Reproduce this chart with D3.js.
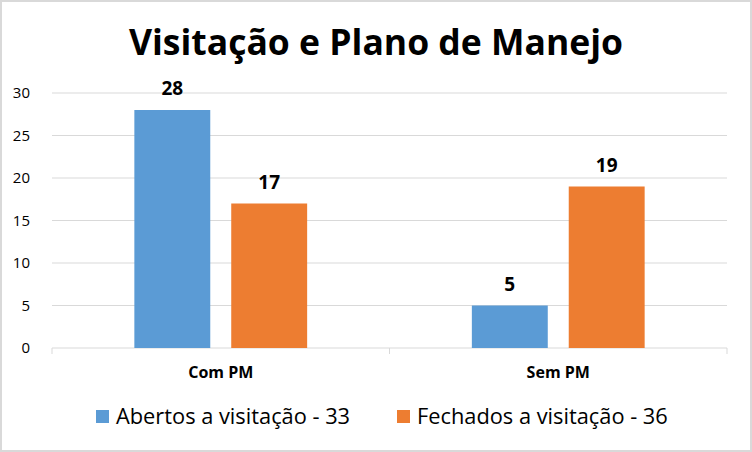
<!DOCTYPE html>
<html><head><meta charset="utf-8">
<script src="https://cdn.jsdelivr.net/npm/d3@7"></script>
<style>body{margin:0;background:#fff}svg{display:block}text{font-family:"Open Sans","Noto Sans",sans-serif}</style>
</head><body>
<script>
const categories = ["Com PM", "Sem PM"];
const seriesNames = ["Abertos a visitação - 33", "Fechados a visitação - 36"];
const abertos = [28, 5];
const fechados = [17, 19];
const yTicks = [0, 5, 10, 15, 20, 25, 30];
const colors = ["#5B9BD5", "#ED7D31"];

const W = 752, H = 452;
const svg = d3.select("body").append("svg").attr("width", W).attr("height", H);
svg.append("rect").attr("x", 1).attr("y", 1).attr("width", W - 2).attr("height", H - 2)
  .attr("fill", "#fff").attr("stroke", "#d9d9d9").attr("stroke-width", 2);

const m = {left: 52, right: 727, top: 93, bottom: 348};
const x = d3.scaleBand().domain(categories).range([m.left, m.right]);
const xs = d3.scaleBand().domain([0, 1]).range([0, x.bandwidth()]).paddingInner(0.2165).paddingOuter(0.85);
const y = d3.scaleLinear().domain([0, 30]).range([m.bottom, m.top]);

svg.append("text").attr("x", 376).attr("y", 55).attr("text-anchor", "middle")
  .attr("font-size", 35.5).attr("font-weight", "bold").attr("fill", "#000").text("Visitação e Plano de Manejo");

const grid = svg.append("g");
yTicks.forEach(t => {
  if (t > 0) grid.append("line").attr("x1", m.left).attr("x2", m.right).attr("y1", y(t)).attr("y2", y(t)).attr("stroke", "#d9d9d9").attr("stroke-width", 1);
});

const yAxis = d3.axisLeft(y).tickValues(yTicks).tickSize(0).tickPadding(22);
svg.append("g").attr("transform", `translate(${m.left},0)`).call(yAxis)
  .call(g => g.select(".domain").remove())
  .call(g => g.selectAll("text").attr("font-size", 15).attr("fill", "#000").attr("font-family", "Open Sans"));

const xg = svg.append("g").attr("transform", `translate(0,${m.bottom})`);
xg.append("line").attr("x1", m.left).attr("x2", m.right).attr("stroke", "#d9d9d9");
[m.left, x("Sem PM"), m.right].forEach(v => xg.append("line").attr("x1", v).attr("x2", v).attr("y1", 0).attr("y2", 6).attr("stroke", "#d9d9d9"));
categories.forEach(c => xg.append("text").attr("x", x(c) + x.bandwidth() / 2).attr("y", 30)
  .attr("text-anchor", "middle").attr("font-size", 16).attr("font-weight", "bold").attr("fill", "#000").text(c));

const series = [abertos, fechados];
series.forEach((vals, si) => {
  categories.forEach((c, ci) => {
    const bx = x(c) + xs(si);
    svg.append("rect").attr("x", bx).attr("y", y(vals[ci])).attr("width", xs.bandwidth())
      .attr("height", y(0) - y(vals[ci])).attr("fill", colors[si]);
    svg.append("text").attr("x", bx + xs.bandwidth() / 2).attr("y", y(vals[ci]) - 15)
      .attr("text-anchor", "middle").attr("font-size", 19).attr("font-weight", "bold").attr("fill", "#000").text(vals[ci]);
  });
});

const legX = [96, 397];
seriesNames.forEach((n, i) => {
  svg.append("rect").attr("x", legX[i]).attr("y", 410).attr("width", 13).attr("height", 13).attr("fill", colors[i]);
  svg.append("text").attr("x", legX[i] + 20).attr("y", 424).attr("font-size", 21.8).attr("fill", "#000").text(n);
});
</script>
</body></html>
